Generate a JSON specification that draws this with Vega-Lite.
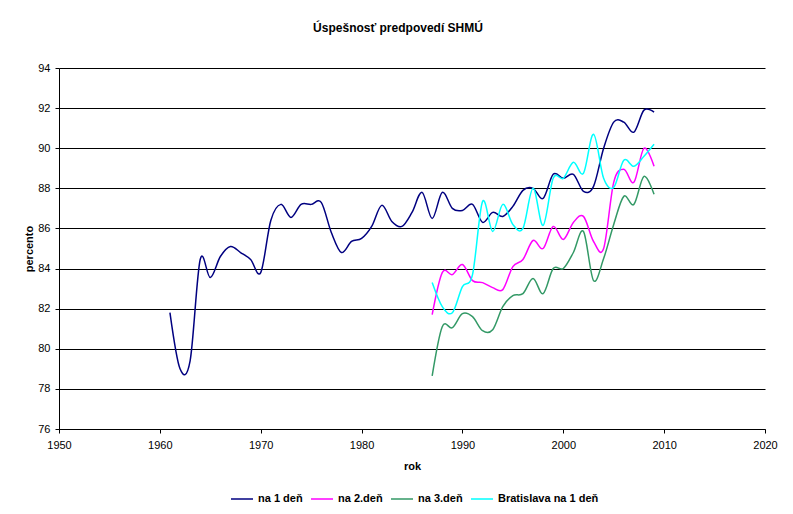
{
  "$schema": "https://vega.github.io/schema/vega-lite/v6.json",
  "width": 706,
  "height": 361,
  "autosize": "none",
  "padding": {"left": 59, "top": 68, "right": 28, "bottom": 85},
  "background": "white",
  "config": {
    "view": {"stroke": null},
    "font": "Liberation Sans"
  },
  "title": {
    "text": "Úspešnosť predpovedí SHMÚ",
    "fontSize": 12,
    "fontWeight": "bold",
    "font": "Liberation Sans",
    "color": "black",
    "anchor": "middle",
    "offset": 27,
    "dx": -14
  },
  "data": {
    "values": [
      {"rok": 1961, "seria": "na 1 deň", "percento": 81.8},
      {"rok": 1962, "seria": "na 1 deň", "percento": 79.0},
      {"rok": 1963, "seria": "na 1 deň", "percento": 79.4},
      {"rok": 1964, "seria": "na 1 deň", "percento": 84.45},
      {"rok": 1965, "seria": "na 1 deň", "percento": 83.55},
      {"rok": 1966, "seria": "na 1 deň", "percento": 84.6},
      {"rok": 1967, "seria": "na 1 deň", "percento": 85.1},
      {"rok": 1968, "seria": "na 1 deň", "percento": 84.8},
      {"rok": 1969, "seria": "na 1 deň", "percento": 84.45},
      {"rok": 1970, "seria": "na 1 deň", "percento": 83.8},
      {"rok": 1971, "seria": "na 1 deň", "percento": 86.4},
      {"rok": 1972, "seria": "na 1 deň", "percento": 87.2},
      {"rok": 1973, "seria": "na 1 deň", "percento": 86.55},
      {"rok": 1974, "seria": "na 1 deň", "percento": 87.2},
      {"rok": 1975, "seria": "na 1 deň", "percento": 87.2},
      {"rok": 1976, "seria": "na 1 deň", "percento": 87.3},
      {"rok": 1977, "seria": "na 1 deň", "percento": 85.8},
      {"rok": 1978, "seria": "na 1 deň", "percento": 84.8},
      {"rok": 1979, "seria": "na 1 deň", "percento": 85.35},
      {"rok": 1980, "seria": "na 1 deň", "percento": 85.5},
      {"rok": 1981, "seria": "na 1 deň", "percento": 86.1},
      {"rok": 1982, "seria": "na 1 deň", "percento": 87.15},
      {"rok": 1983, "seria": "na 1 deň", "percento": 86.35},
      {"rok": 1984, "seria": "na 1 deň", "percento": 86.1},
      {"rok": 1985, "seria": "na 1 deň", "percento": 86.8},
      {"rok": 1986, "seria": "na 1 deň", "percento": 87.8},
      {"rok": 1987, "seria": "na 1 deň", "percento": 86.5},
      {"rok": 1988, "seria": "na 1 deň", "percento": 87.8},
      {"rok": 1989, "seria": "na 1 deň", "percento": 87.0},
      {"rok": 1990, "seria": "na 1 deň", "percento": 86.9},
      {"rok": 1991, "seria": "na 1 deň", "percento": 87.2},
      {"rok": 1992, "seria": "na 1 deň", "percento": 86.3},
      {"rok": 1993, "seria": "na 1 deň", "percento": 86.8},
      {"rok": 1994, "seria": "na 1 deň", "percento": 86.6},
      {"rok": 1995, "seria": "na 1 deň", "percento": 87.1},
      {"rok": 1996, "seria": "na 1 deň", "percento": 87.9},
      {"rok": 1997, "seria": "na 1 deň", "percento": 88.0},
      {"rok": 1998, "seria": "na 1 deň", "percento": 87.5},
      {"rok": 1999, "seria": "na 1 deň", "percento": 88.7},
      {"rok": 2000, "seria": "na 1 deň", "percento": 88.5},
      {"rok": 2001, "seria": "na 1 deň", "percento": 88.7},
      {"rok": 2002, "seria": "na 1 deň", "percento": 87.85},
      {"rok": 2003, "seria": "na 1 deň", "percento": 88.1},
      {"rok": 2004, "seria": "na 1 deň", "percento": 90.0},
      {"rok": 2005, "seria": "na 1 deň", "percento": 91.3},
      {"rok": 2006, "seria": "na 1 deň", "percento": 91.3},
      {"rok": 2007, "seria": "na 1 deň", "percento": 90.8},
      {"rok": 2008, "seria": "na 1 deň", "percento": 91.9},
      {"rok": 2009, "seria": "na 1 deň", "percento": 91.8},

      {"rok": 1987, "seria": "na 2.deň", "percento": 81.7},
      {"rok": 1988, "seria": "na 2.deň", "percento": 83.8},
      {"rok": 1989, "seria": "na 2.deň", "percento": 83.7},
      {"rok": 1990, "seria": "na 2.deň", "percento": 84.2},
      {"rok": 1991, "seria": "na 2.deň", "percento": 83.4},
      {"rok": 1992, "seria": "na 2.deň", "percento": 83.3},
      {"rok": 1993, "seria": "na 2.deň", "percento": 83.05},
      {"rok": 1994, "seria": "na 2.deň", "percento": 82.95},
      {"rok": 1995, "seria": "na 2.deň", "percento": 84.1},
      {"rok": 1996, "seria": "na 2.deň", "percento": 84.45},
      {"rok": 1997, "seria": "na 2.deň", "percento": 85.4},
      {"rok": 1998, "seria": "na 2.deň", "percento": 85.0},
      {"rok": 1999, "seria": "na 2.deň", "percento": 86.1},
      {"rok": 2000, "seria": "na 2.deň", "percento": 85.45},
      {"rok": 2001, "seria": "na 2.deň", "percento": 86.3},
      {"rok": 2002, "seria": "na 2.deň", "percento": 86.6},
      {"rok": 2003, "seria": "na 2.deň", "percento": 85.35},
      {"rok": 2004, "seria": "na 2.deň", "percento": 85.0},
      {"rok": 2005, "seria": "na 2.deň", "percento": 88.3},
      {"rok": 2006, "seria": "na 2.deň", "percento": 88.95},
      {"rok": 2007, "seria": "na 2.deň", "percento": 88.3},
      {"rok": 2008, "seria": "na 2.deň", "percento": 90.0},
      {"rok": 2009, "seria": "na 2.deň", "percento": 89.1},

      {"rok": 1987, "seria": "na 3.deň", "percento": 78.65},
      {"rok": 1988, "seria": "na 3.deň", "percento": 81.1},
      {"rok": 1989, "seria": "na 3.deň", "percento": 81.05},
      {"rok": 1990, "seria": "na 3.deň", "percento": 81.75},
      {"rok": 1991, "seria": "na 3.deň", "percento": 81.6},
      {"rok": 1992, "seria": "na 3.deň", "percento": 80.9},
      {"rok": 1993, "seria": "na 3.deň", "percento": 80.95},
      {"rok": 1994, "seria": "na 3.deň", "percento": 82.1},
      {"rok": 1995, "seria": "na 3.deň", "percento": 82.65},
      {"rok": 1996, "seria": "na 3.deň", "percento": 82.75},
      {"rok": 1997, "seria": "na 3.deň", "percento": 83.5},
      {"rok": 1998, "seria": "na 3.deň", "percento": 82.75},
      {"rok": 1999, "seria": "na 3.deň", "percento": 84.0},
      {"rok": 2000, "seria": "na 3.deň", "percento": 84.0},
      {"rok": 2001, "seria": "na 3.deň", "percento": 84.8},
      {"rok": 2002, "seria": "na 3.deň", "percento": 85.85},
      {"rok": 2003, "seria": "na 3.deň", "percento": 83.4},
      {"rok": 2004, "seria": "na 3.deň", "percento": 84.5},
      {"rok": 2005, "seria": "na 3.deň", "percento": 86.2},
      {"rok": 2006, "seria": "na 3.deň", "percento": 87.6},
      {"rok": 2007, "seria": "na 3.deň", "percento": 87.2},
      {"rok": 2008, "seria": "na 3.deň", "percento": 88.6},
      {"rok": 2009, "seria": "na 3.deň", "percento": 87.7},

      {"rok": 1987, "seria": "Bratislava na 1 deň", "percento": 83.3},
      {"rok": 1988, "seria": "Bratislava na 1 deň", "percento": 82.1},
      {"rok": 1989, "seria": "Bratislava na 1 deň", "percento": 81.8},
      {"rok": 1990, "seria": "Bratislava na 1 deň", "percento": 83.1},
      {"rok": 1991, "seria": "Bratislava na 1 deň", "percento": 83.7},
      {"rok": 1992, "seria": "Bratislava na 1 deň", "percento": 87.35},
      {"rok": 1993, "seria": "Bratislava na 1 deň", "percento": 85.85},
      {"rok": 1994, "seria": "Bratislava na 1 deň", "percento": 87.2},
      {"rok": 1995, "seria": "Bratislava na 1 deň", "percento": 86.2},
      {"rok": 1996, "seria": "Bratislava na 1 deň", "percento": 86.0},
      {"rok": 1997, "seria": "Bratislava na 1 deň", "percento": 88.0},
      {"rok": 1998, "seria": "Bratislava na 1 deň", "percento": 86.15},
      {"rok": 1999, "seria": "Bratislava na 1 deň", "percento": 88.5},
      {"rok": 2000, "seria": "Bratislava na 1 deň", "percento": 88.5},
      {"rok": 2001, "seria": "Bratislava na 1 deň", "percento": 89.3},
      {"rok": 2002, "seria": "Bratislava na 1 deň", "percento": 88.75},
      {"rok": 2003, "seria": "Bratislava na 1 deň", "percento": 90.7},
      {"rok": 2004, "seria": "Bratislava na 1 deň", "percento": 88.5},
      {"rok": 2005, "seria": "Bratislava na 1 deň", "percento": 88.05},
      {"rok": 2006, "seria": "Bratislava na 1 deň", "percento": 89.4},
      {"rok": 2007, "seria": "Bratislava na 1 deň", "percento": 89.1},
      {"rok": 2008, "seria": "Bratislava na 1 deň", "percento": 89.6},
      {"rok": 2009, "seria": "Bratislava na 1 deň", "percento": 90.2}
    ]
  },
  "mark": {"type": "line", "interpolate": "cardinal", "tension": 0, "strokeWidth": 1.5, "clip": true},
  "encoding": {
    "x": {
      "field": "rok",
      "type": "quantitative",
      "scale": {"domain": [1950, 2020], "nice": false, "zero": false},
      "axis": {
        "title": "rok",
        "values": [1950, 1960, 1970, 1980, 1990, 2000, 2010, 2020],
        "format": "d",
        "grid": false,
        "labelFlush": false,
        "labelOverlap": false,
        "domainColor": "black",
        "domainWidth": 1,
        "tickColor": "black",
        "tickSize": 4,
        "labelFontSize": 11,
        "labelColor": "black",
        "labelPadding": 6,
        "labelFont": "Liberation Sans",
        "titleFont": "Liberation Sans",
        "titleFontSize": 11,
        "titleFontWeight": "bold",
        "titleColor": "black",
        "titlePadding": 10
      }
    },
    "y": {
      "field": "percento",
      "type": "quantitative",
      "scale": {"domain": [76, 94], "nice": false, "zero": false},
      "axis": {
        "title": "percento",
        "values": [76, 78, 80, 82, 84, 86, 88, 90, 92, 94],
        "grid": true,
        "gridColor": "black",
        "gridOpacity": 1,
        "gridWidth": 1,
        "labelFlush": false,
        "domainColor": "black",
        "domainWidth": 1,
        "tickColor": "black",
        "tickSize": 4,
        "labelFontSize": 11,
        "labelColor": "black",
        "labelPadding": 5,
        "labelFont": "Liberation Sans",
        "titleFont": "Liberation Sans",
        "titleFontSize": 11,
        "titleFontWeight": "bold",
        "titleColor": "black",
        "titlePadding": 3
      }
    },
    "color": {
      "field": "seria",
      "type": "nominal",
      "sort": ["na 1 deň", "na 2.deň", "na 3.deň", "Bratislava na 1 deň"],
      "scale": {
        "domain": ["na 1 deň", "na 2.deň", "na 3.deň", "Bratislava na 1 deň"],
        "range": ["#000080", "#FF00FF", "#339966", "#00FFFF"]
      },
      "legend": {
        "title": null,
        "orient": "none",
        "legendX": 171,
        "legendY": 419,
        "direction": "horizontal",
        "symbolType": "stroke",
        "symbolSize": 484,
        "symbolStrokeWidth": 1.5,
        "labelFontSize": 11,
        "labelFontWeight": "bold",
        "labelFont": "Liberation Sans",
        "labelColor": "black",
        "labelOffset": 4,
        "columnPadding": 5
      }
    }
  }
}
